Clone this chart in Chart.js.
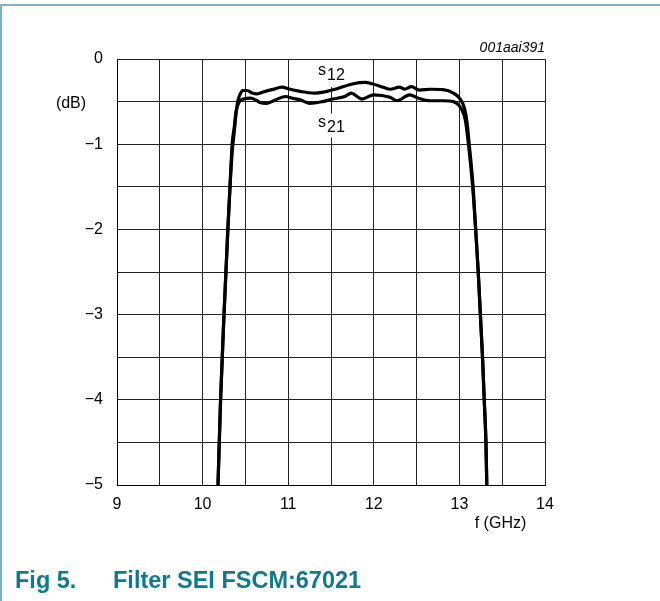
<!DOCTYPE html>
<html>
<head>
<meta charset="utf-8">
<script src="https://cdn.jsdelivr.net/npm/chart.js@4.4.1/dist/chart.umd.min.js"></script>
<style>
  html, body { margin: 0; padding: 0; background: #fff; }
  #wrap { position: relative; width: 660px; height: 601px; overflow: hidden; background: #fff; }
  #c { position: absolute; left: 0; top: 0; }
  #frameTop { position: absolute; left: 0; top: 4px; width: 660px; height: 2px; background: #7fb3c3; }
  #frameLeft { position: absolute; left: 0; top: 4px; width: 2px; height: 597px; background: #7fb3c3; }
  .cap { position: absolute; top: 566px; font-family: "Liberation Sans", Arial, sans-serif; font-weight: bold; font-size: 23.5px; line-height: 28px; color: #12788c; white-space: nowrap; }
</style>
</head>
<body>
<div id="wrap">
  <canvas id="c" width="660" height="601"></canvas>
  <div id="frameTop"></div>
  <div id="frameLeft"></div>
  <div class="cap" style="left:15px;">Fig 5.</div>
  <div class="cap" style="left:113px;">Filter SEI FSCM:67021</div>
</div>
<script>
// ---- data (frequency in GHz, level in dB) ----
const s12Freq = [10.18, 10.21, 10.25, 10.295, 10.32, 10.345, 10.37, 10.39, 10.41, 10.44, 10.47, 10.52, 10.58, 10.63, 10.70, 10.81, 10.93, 11.00, 11.14, 11.30, 11.45, 11.57, 11.76, 11.90, 11.98, 12.12, 12.19, 12.30, 12.36, 12.44, 12.53, 12.66, 12.81, 12.93, 13.01, 13.06, 13.09, 13.11, 13.16, 13.19, 13.22, 13.245, 13.27, 13.29, 13.31, 13.32];
const s12dB   = [-5, -4, -3, -2, -1.5, -1.1, -0.85, -0.65, -0.5, -0.41, -0.37, -0.37, -0.40, -0.41, -0.39, -0.36, -0.33, -0.35, -0.38, -0.40, -0.38, -0.35, -0.29, -0.275, -0.29, -0.335, -0.355, -0.33, -0.355, -0.325, -0.365, -0.355, -0.36, -0.40, -0.47, -0.58, -0.75, -0.95, -1.5, -2, -2.5, -3, -3.5, -4, -4.5, -5];
const s21Freq = [10.18, 10.21, 10.25, 10.295, 10.32, 10.345, 10.37, 10.39, 10.43, 10.48, 10.56, 10.62, 10.67, 10.75, 10.85, 10.97, 11.05, 11.14, 11.25, 11.40, 11.52, 11.66, 11.74, 11.79, 11.86, 12.00, 12.19, 12.27, 12.42, 12.52, 12.66, 12.81, 12.93, 12.99, 13.03, 13.07, 13.10, 13.155, 13.19, 13.22, 13.245, 13.27, 13.29, 13.31, 13.32];
const s21dB   = [-5, -4, -3, -2, -1.5, -1.0, -0.8, -0.62, -0.50, -0.47, -0.46, -0.48, -0.51, -0.52, -0.48, -0.44, -0.46, -0.48, -0.52, -0.50, -0.47, -0.44, -0.40, -0.43, -0.47, -0.42, -0.45, -0.49, -0.42, -0.46, -0.49, -0.49, -0.50, -0.54, -0.60, -0.72, -0.95, -1.5, -2, -2.5, -3, -3.5, -4, -4.5, -5];
const xTickLabels = [9, 10, 11, 12, 13, 14];
const yTickLabels = [0, -1, -2, -3, -4, -5];
const xTitle = 'f (GHz)';
const yTitle = '(dB)';
const figCode = '001aai391';

const toPts = (xs, ys) => xs.map((x, i) => ({ x: x, y: ys[i] }));
const FONT = '"Liberation Sans", Arial, sans-serif';
const minus = v => (v < 0 ? '\u2212' + Math.abs(v) : String(v));

const annot = {
  id: 'annot',
  beforeDatasetsDraw(chart) {
    const { ctx, scales: { x, y } } = chart;
    ctx.save();
    ctx.fillStyle = '#fff';
    const xl = x.getPixelForValue(11.5);
    ctx.fillRect(xl - 14, y.getPixelForValue(0) + 1, 30, 27);
    ctx.fillRect(xl - 14, y.getPixelForValue(-0.64), 30, 24);
    ctx.restore();
  },
  afterDraw(chart) {
    const { ctx, chartArea: ca, scales: { x, y } } = chart;
    ctx.save();
    ctx.fillStyle = '#000';
    const xl = x.getPixelForValue(11.5);
    ctx.font = '16px ' + FONT;
    ctx.textBaseline = 'alphabetic';
    ctx.textAlign = 'left';
    ctx.fillText('s', xl - 13, y.getPixelForValue(-0.19));
    ctx.fillText('12', xl - 4, y.getPixelForValue(-0.25));
    ctx.fillText('s', xl - 13, y.getPixelForValue(-0.8));
    ctx.fillText('21', xl - 4, y.getPixelForValue(-0.86));
    ctx.font = '16px ' + FONT;
    ctx.textAlign = 'center';
    ctx.textBaseline = 'middle';
    ctx.fillText(yTitle, 71, y.getPixelForValue(-0.52));
    ctx.fillText(xTitle, x.getPixelForValue(13.48), 524);
    ctx.font = 'italic 14px ' + FONT;
    ctx.textAlign = 'right';
    ctx.textBaseline = 'alphabetic';
    ctx.fillText(figCode, ca.right, 52);
    ctx.restore();
  }
};

new Chart(document.getElementById('c'), {
  type: 'line',
  data: {
    datasets: [
      { label: 's12', data: toPts(s12Freq, s12dB), borderColor: '#000', borderWidth: 3.2, pointRadius: 0, cubicInterpolationMode: 'monotone', fill: false },
      { label: 's21', data: toPts(s21Freq, s21dB), borderColor: '#000', borderWidth: 3.2, pointRadius: 0, cubicInterpolationMode: 'monotone', fill: false }
    ]
  },
  options: {
    responsive: false,
    animation: false,
    devicePixelRatio: 1,
    layout: { padding: { left: 0, right: 115, top: 59, bottom: 0 } },
    plugins: { legend: { display: false }, tooltip: { enabled: false } },
    scales: {
      x: {
        type: 'linear', min: 9, max: 14,
        afterFit(s) { s.height = 116; },
        grid: { color: '#222', lineWidth: 1, drawTicks: false },
        border: { color: '#000', width: 1 },
        ticks: {
          stepSize: 0.5, autoSkip: false, maxRotation: 0, padding: 10,
          color: '#000', font: { family: FONT, size: 16 },
          callback: v => (xTickLabels.includes(v) ? String(v) : '')
        }
      },
      y: {
        type: 'linear', min: -5, max: 0,
        afterFit(s) { s.width = 117; },
        grid: { color: '#222', lineWidth: 1, drawTicks: false },
        border: { color: '#000', width: 1 },
        ticks: {
          stepSize: 0.5, autoSkip: false, padding: 14,
          color: '#000', font: { family: FONT, size: 16 },
          callback: v => (yTickLabels.includes(v) ? minus(v) : '')
        }
      }
    }
  },
  plugins: [annot]
});
</script>
</body>
</html>
